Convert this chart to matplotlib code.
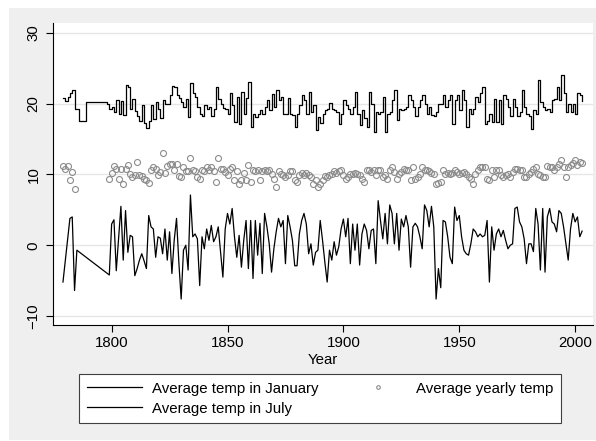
import numpy as np
import matplotlib
matplotlib.use("Agg")
import matplotlib.pyplot as plt
from matplotlib.lines import Line2D

plt.rcParams['font.family'] = ['Liberation Sans', 'DejaVu Sans']
plt.rcParams['font.size'] = 10.8

nan = np.nan
years = np.arange(1779, 2004)

# average July temperature (step line)
july = [
    20.8,
    20.4, 21.0, 21.5, 22.0, 19.3, 19.3, 17.5, nan, nan, 20.2,
    nan, nan, nan, nan, nan, nan, nan, nan, 20.0, 19.2,
    19.5, 18.9, 20.5, 18.6, 20.4, 18.4, 22.6, 22.4, 19.3, 20.7,
    19.0, 18.2, 17.6, 19.8, 17.3, 16.6, 17.5, 19.8, 17.8, 20.3,
    19.3, 18.0, 20.5, 19.9, 20.0, 21.2, 22.5, 22.4, 21.3, 20.8,
    20.2, 19.5, 20.6, 18.1, 23.0, 21.5, 20.9, 19.6, 18.5, 18.2,
    19.8, 19.2, 19.5, 18.3, 19.2, 22.3, 20.7, 19.9, 19.4, 19.3,
    18.6, 21.5, 19.8, 17.4, 21.0, 17.2, 21.7, 18.6, 20.8, 23.1,
    16.7, 18.6, 18.1, 18.6, 19.1, 18.6, 19.6, 20.5, 19.1, 21.4,
    19.6, 21.9, 20.5, 21.0, 18.6, 18.6, 20.8, 18.6, 18.4, 16.7,
    18.6, 19.8, 21.2, 20.5, 18.6, 21.7, 18.9, 19.8, 16.3, 18.1,
    17.3, 18.6, 19.1, 19.3, 20.1, 19.3, 19.1, 18.9, 17.2, 18.5,
    20.5, 19.8, 19.3, 18.6, 19.6, 21.7, 18.6, 17.0, 19.1, 18.0,
    16.7, 21.7, 20.0, 16.0, 18.9, 18.6, 18.9, 21.0, 16.0, 18.6,
    18.9, 20.5, 21.9, 17.7, 19.3, 19.1, 19.3, 19.6, 21.2, 20.5,
    19.6, 18.2, 19.6, 20.5, 21.2, 20.0, 18.6, 19.6, 18.4, 18.2,
    18.9, 20.0, 20.0, 21.2, 19.6, 20.5, 21.2, 17.2, 20.5, 21.2,
    19.1, 21.9, 20.5, 16.7, 19.3, 18.6, 19.3, 21.0, 20.3, 21.5,
    22.4, 17.2, 17.6, 18.6, 17.4, 20.7, 17.4, 20.5, 17.2, 21.2,
    20.7, 19.6, 18.2, 20.7, 19.6, 18.2, 18.9, 21.9, 19.6, 18.6,
    18.2, 16.5, 19.1, 18.6, 23.3, 20.3, 19.6, 19.1, 19.3, 18.9,
    20.5, 20.7, 22.4, 20.5, 24.1, 21.5, 18.9, 20.0, 18.9, 20.0,
    18.6, 21.5, 21.2, 20.4,
]

# average January temperature
january = [
    -5.2,
    nan, nan, 3.8, 4.0, -6.4, -0.7, nan, nan, nan, nan,
    nan, nan, nan, nan, nan, nan, nan, nan, nan, -4.2,
    3.0, 3.6, -3.6, 1.0, 5.5, -2.1, 4.9, -1.0, 1.4, 1.2,
    -4.3, -3.3, -2.1, -1.2, -2.2, -3.3, 4.2, 2.6, 2.3, -1.7,
    1.2, 1.0, -1.2, 2.3, -2.1, 1.9, -4.0, 0.7, 3.8, -2.4,
    -7.6, -0.7, 0.0, -3.5, 7.1, 1.2, 1.6, 0.9, -5.7, 1.2,
    -0.5, 2.3, 0.7, 2.8, 0.5, 1.2, 2.6, -1.0, -4.5, 2.3,
    4.5, 3.0, 5.2, 1.2, -1.7, 1.4, -3.1, 0.7, 3.5, -3.3,
    3.5, -4.7, 3.5, -1.4, 3.1, -4.0, 4.5, 2.6, 0.2, -3.8,
    -0.5, 1.9, 3.8, 2.6, 3.5, -2.6, 4.2, 2.6, 0.7, -2.9,
    -2.9, 1.6, 3.5, 4.5, 3.0, -1.2, 0.2, -2.8, -1.0, -0.7,
    3.5, 0.7, -2.4, -5.2, -0.7, -2.1, 0.5, -1.4, -0.2, 2.3,
    3.7, 1.2, 3.8, -2.6, 3.0, -0.7, 3.0, -2.8, 1.6, 3.0,
    2.1, -0.5, 2.1, 2.3, -2.6, 6.3, 3.5, 0.9, 4.5, 0.2,
    5.7, 4.5, 0.2, 4.5, -0.7, 3.7, 2.6, 4.2, 2.6, -3.1,
    2.6, 3.1, 2.6, 1.2, -0.5, 5.7, 4.9, 2.6, 5.5, 2.6,
    -7.6, -3.3, -6.0, 3.5, 3.3, 1.2, -1.7, -2.6, 5.4, 3.5,
    4.2, 1.2, -0.7, -1.2, -1.4, 0.2, 2.3, 1.9, 1.2, 1.6,
    1.2, 1.4, 3.5, -5.2, 2.6, -0.7, 1.6, 2.3, 1.2, 2.1,
    0.7, -0.5, 0.0, 0.2, 5.2, 5.4, 3.3, 2.6, 0.9, -2.6,
    0.2, 0.2, -0.9, 5.2, 3.0, -3.5, 5.2, -3.8, 4.0, 5.2,
    3.3, 3.0, 1.9, 4.9, 4.5, 2.6, 0.2, -2.1, 2.3, 4.5,
    3.3, 4.0, 1.2, 2.0,
]

# average temperature over the whole year
yearly = [
    11.2,
    10.8, 11.2, 9.2, 10.4, 7.9, nan, nan, nan, nan, nan,
    nan, nan, nan, nan, nan, nan, nan, nan, nan, 9.4,
    10.2, 11.2, 10.8, 9.4, 10.8, 8.6, 10.8, 11.3, 10.0, 9.6,
    9.9, 11.8, 9.9, 9.8, 9.4, 9.2, 8.8, 10.7, 11.0, 10.8,
    9.9, 10.4, 13.0, 10.2, 11.2, 11.5, 11.5, 10.7, 11.5, 9.8,
    9.6, 11.0, 10.5, 10.5, 12.4, 10.6, 10.5, 9.7, 9.4, 10.6,
    10.5, 11.0, 10.6, 11.0, 10.5, 9.0, 12.4, 10.8, 10.8, 10.4,
    9.9, 10.8, 11.0, 9.2, 10.5, 8.7, 9.2, 10.2, 9.2, 11.3,
    9.0, 10.6, 10.5, 10.7, 9.2, 10.5, 10.6, 10.5, 10.7, 10.1,
    9.3, 8.3, 10.5, 10.1, 9.9, 9.7, 9.9, 10.5, 10.5, 9.2,
    9.0, 9.9, 10.2, 9.9, 10.2, 9.9, 9.7, 8.7, 9.2, 8.3,
    8.7, 9.2, 9.8, 9.7, 9.9, 10.1, 10.5, 10.2, 10.5, 10.6,
    9.9, 9.4, 9.7, 10.0, 10.1, 10.2, 10.1, 9.9, 9.4, 9.0,
    10.6, 10.7, 10.4, 10.6, 9.9, 10.6, 10.7, 9.7, 9.9, 9.4,
    10.6, 11.1, 10.4, 9.4, 10.1, 10.4, 10.8, 10.6, 10.7, 9.2,
    11.0, 9.4, 9.7, 10.0, 11.0, 10.7, 10.6, 10.5, 10.2, 10.0,
    8.7, 8.8, 9.0, 10.7, 10.0, 10.2, 10.1, 10.2, 10.6, 10.4,
    10.1, 10.2, 10.4, 10.1, 9.7, 9.4, 8.7, 10.1, 10.6, 11.0,
    11.0, 11.0, 9.4, 9.2, 10.6, 9.7, 10.6, 10.7, 9.9, 9.7,
    9.9, 10.1, 9.7, 10.4, 10.8, 10.8, 10.7, 10.6, 9.7, 9.7,
    10.1, 10.4, 10.8, 11.0, 10.1, 9.9, 9.7, 9.6, 11.2, 11.0,
    11.1, 10.6, 11.0, 11.5, 12.0, 11.0, 9.7, 11.0, 11.3, 11.6,
    12.0, 11.4, 11.8, 11.6,
]

y_ticks = [-10, 0, 10, 20, 30]
x_ticks = [1800, 1850, 1900, 1950, 2000]

july = np.array(july)
january = np.array(january)
yearly = np.array(yearly)
assert len(july) == len(years) == len(january) == len(yearly)

W, H = 596, 441
fig = plt.figure(figsize=(W / 100, H / 100), dpi=100)
fig.patch.set_facecolor('white')
# light gray graph region behind everything
fig.patches.append(plt.Rectangle((9 / W, 1 / H), (W - 9) / W, (440 - 8) / H,
                                 transform=fig.transFigure, facecolor='#efefef',
                                 edgecolor='none', zorder=-5))

ax = fig.add_axes([53 / W, 1 - 325 / H, (593 - 53) / W, (325 - 23) / H])
ax.set_zorder(1)
ax.set_facecolor('white')

# missing years are skipped, so the lines run across the gaps
ok = ~np.isnan(january)
ax.plot(years[ok], january[ok], color='black', lw=0.9)
ok = ~np.isnan(july)
ax.plot(years[ok], july[ok], color='black', lw=0.9, drawstyle='steps-post')
ok = ~np.isnan(yearly)
ax.plot(years[ok], yearly[ok], ls='none', marker='o', ms=4.3, mfc='none',
        mec='#8c8c8c', mew=0.8)

ax.set_xlim(1774.7, 2007.7)
ax.set_ylim(-11.27, 31.41)
ax.set_yticks(y_ticks)
ax.set_xticks(x_ticks)
plt.setp(ax.get_yticklabels(), rotation=90, va='center')
ax.tick_params(axis='y', length=5, width=0.8, pad=4)
ax.tick_params(axis='x', length=5, width=0.8, pad=3)
ax.yaxis.grid(True, color='#e6e6e6', lw=1.0)
ax.set_axisbelow(True)
for side in ['top', 'right']:
    ax.spines[side].set_visible(False)
for side in ['left', 'bottom']:
    ax.spines[side].set_linewidth(0.8)
ax.set_xlabel('Year', labelpad=2)

handles = [
    Line2D([], [], color='black', lw=0.9),
    Line2D([], [], color='black', lw=0.9),
    Line2D([], [], ls='none', marker='o', ms=4.3, mfc='none', mec='#8c8c8c', mew=0.8),
]
labels = ['Average temp in January', 'Average temp in July', 'Average yearly temp']
leg = fig.legend(handles, labels, loc='upper left',
                 bbox_to_anchor=(79 / W, 1 - 374 / H), ncol=2,
                 frameon=True, fancybox=False, edgecolor='#404040',
                 facecolor='white', framealpha=1, borderpad=0.5,
                 handlelength=3.73, handletextpad=0.67, columnspacing=2.1,
                 labelspacing=0.4, markerscale=0.6, borderaxespad=0)
leg.get_frame().set_linewidth(0.8)

fig.savefig('out.png', dpi=100, facecolor=fig.get_facecolor())
